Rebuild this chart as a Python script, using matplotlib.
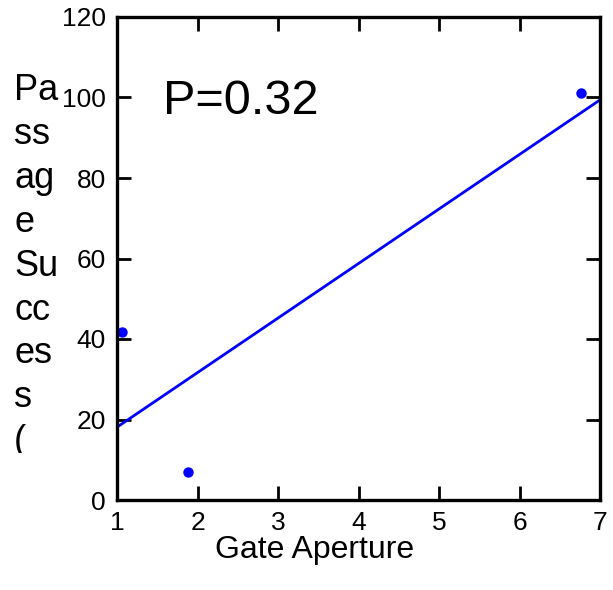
import matplotlib
matplotlib.use("Agg")
import matplotlib.pyplot as plt
from matplotlib.transforms import Bbox

plt.rcParams["font.family"] = ["Liberation Sans", "DejaVu Sans"]

# data
gate_aperture = [1.06, 1.88, 6.77]
passage_success = [41.7, 7.0, 101.0]
fit_x = [1.0, 7.0]
fit_y = [18.1, 99.4]
x_ticks = [1, 2, 3, 4, 5, 6, 7]
y_ticks = [0, 20, 40, 60, 80, 100, 120]
p_label = "P=0.32"
ylabel_lines = ["Pa", "ss", "ag", "e", "Su", "cc", "es", "s", "("]

fig = plt.figure(figsize=(6.13, 5.90), dpi=100)
ax = fig.add_axes([117 / 613, 90 / 590, 483 / 613, 483 / 590])

ax.plot(fit_x, fit_y, color="#0000ff", lw=2.0, solid_capstyle="butt")
ax.plot(gate_aperture, passage_success, "o", color="#0000ff", ms=7.5, mec="none",
        clip_on=False)

ax.set_xlim(1, 7)
ax.set_ylim(0, 120)
ax.set_xticks(x_ticks)
ax.set_yticks(y_ticks)
ax.tick_params(direction="in", length=10, width=2, top=True, right=True,
               labelsize=19, pad=8, color="black")
for s in ax.spines.values():
    s.set_linewidth(2.4)

# x label sits left of centre in the reference
ax.set_xlabel("Gate Aperture", fontsize=23, va="baseline")
ax.xaxis.set_label_coords(0.41, -0.12)
ax.text(1.57, 96.0, p_label, fontsize=35, va="baseline", ha="left")

# y label in the reference is wrapped into a narrow box and cut off at the bottom
yl = fig.text(14 / 613, 1 - 73 / 590, "\n".join(ylabel_lines), fontsize=26,
              ha="left", va="top", linespacing=1.33)
yl.set_clip_box(Bbox.from_extents(0, 590 - 453, 110, 590))
yl.set_clip_on(True)

fig.savefig("out.png", dpi=100)
